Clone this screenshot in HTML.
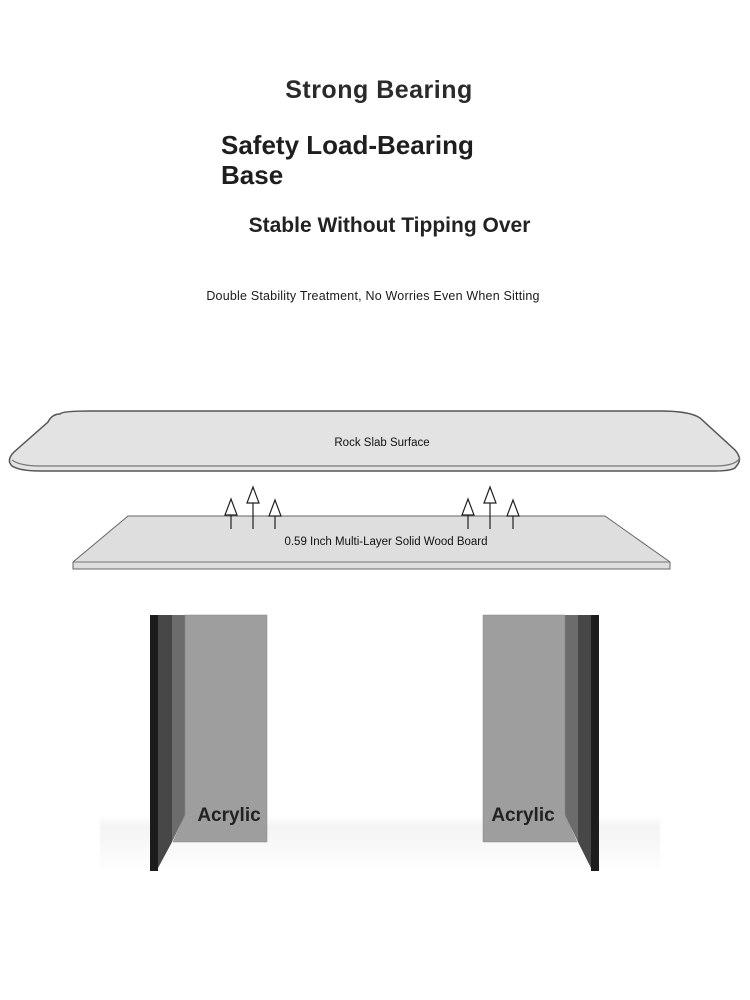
<!DOCTYPE html>
<html><head><style>
body{margin:0;width:750px;height:1000px;background:#fff;position:relative;overflow:hidden;font-family:"Liberation Sans",sans-serif;color:#222}
.t{position:absolute;white-space:nowrap}
</style></head><body>
<div class="t" style="left:0;width:758px;text-align:center;top:76px;font-size:25px;font-weight:bold;letter-spacing:0.5px;color:#2a2a2a">Strong Bearing</div>
<div class="t" style="left:221px;top:130px;font-size:26px;font-weight:bold;line-height:30px;color:#1e1e1e">Safety Load-Bearing<br>Base</div>
<div class="t" style="left:0;width:779px;text-align:center;top:214px;font-size:21px;font-weight:bold">Stable Without Tipping Over</div>
<div class="t" style="left:0;width:746px;text-align:center;top:289px;font-size:12.5px;letter-spacing:0.2px;color:#1a1a1a">Double Stability Treatment, No Worries Even When Sitting</div>
<svg width="750" height="1000" style="position:absolute;left:0;top:0">
<defs><linearGradient id="fl" x1="0" y1="0" x2="0" y2="1"><stop offset="0" stop-color="#fff"/><stop offset="0.2" stop-color="#f4f4f4"/><stop offset="1" stop-color="#fff"/></linearGradient></defs>
<rect x="100" y="815" width="560" height="60" fill="url(#fl)"/>
<path d="M60 414 Q62 411 90 411 L660 411 Q690 411 700 418 L735 450 Q742 458 738 464 L735 468 Q730 471 715 471 L40 471 Q20 471 12 466 Q6 460 14 452 L48 422 Q52 414 60 414 Z" fill="#e3e3e3" stroke="#555" stroke-width="1.5"/>
<path d="M12 460 Q20 466 40 466 L715 466 Q735 466 740 458" fill="none" stroke="#777" stroke-width="1.2"/>
<path d="M128 516 L605 516 L670 562 L670 569 L73 569 L73 562 Z" fill="#dedede" stroke="#666" stroke-width="1"/>
<line x1="73" y1="562" x2="670" y2="562" stroke="#777"/>
<g stroke="#222" stroke-width="1.2" fill="#fff">
<line x1="231" y1="508" x2="231" y2="529"/><path d="M225 515 L231 499 L237 515 Z"/>
<line x1="253" y1="496" x2="253" y2="529"/><path d="M247 503 L253 487 L259 503 Z"/>
<line x1="275" y1="510" x2="275" y2="529"/><path d="M269 516 L275 500 L281 516 Z"/>
<line x1="468" y1="508" x2="468" y2="529"/><path d="M462 515 L468 499 L474 515 Z"/>
<line x1="490" y1="496" x2="490" y2="529"/><path d="M484 503 L490 487 L496 503 Z"/>
<line x1="513" y1="510" x2="513" y2="529"/><path d="M507 516 L513 500 L519 516 Z"/>
</g>
<text x="382" y="446" font-size="11.5" text-anchor="middle" fill="#111" font-family="Liberation Sans">Rock Slab Surface</text>
<text x="386" y="545" font-size="11.5" text-anchor="middle" fill="#111" font-family="Liberation Sans">0.59 Inch Multi-Layer Solid Wood Board</text>
<rect x="150" y="615" width="8" height="256" fill="#1c1c1c"/>
<path d="M158 615 L172 615 L172 842 L158 868 Z" fill="#474747"/>
<path d="M172 615 L185 615 L185 815 L172 842 Z" fill="#6c6c6c"/>
<path d="M185 615 L267 615 L267 842 L173 842 L185 815 Z" fill="#9e9e9e" stroke="#888" stroke-width="0.5"/>
<rect x="591" y="615" width="8" height="256" fill="#1c1c1c"/>
<path d="M591 615 L578 615 L578 842 L591 868 Z" fill="#474747"/>
<path d="M578 615 L565 615 L565 815 L578 842 Z" fill="#6c6c6c"/>
<path d="M565 615 L483 615 L483 842 L577 842 L565 815 Z" fill="#9e9e9e" stroke="#888" stroke-width="0.5"/>
<text x="229" y="821" font-size="19" font-weight="bold" text-anchor="middle" fill="#222" font-family="Liberation Sans">Acrylic</text>
<text x="523" y="821" font-size="19" font-weight="bold" text-anchor="middle" fill="#222" font-family="Liberation Sans">Acrylic</text>
</svg>
</body></html>
